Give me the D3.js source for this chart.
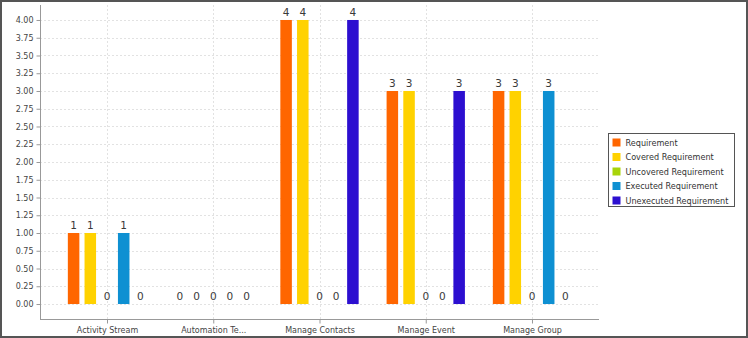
<!DOCTYPE html>
<html><head><meta charset="utf-8">
<script src="https://cdn.jsdelivr.net/npm/d3@7"></script>
<style>html,body{margin:0;padding:0;background:#fff;}svg{display:block;font-family:"DejaVu Sans",sans-serif;}</style>
</head><body>
<svg id="c" width="748" height="338"></svg>
<script>
const categories = ["Activity Stream","Automation Te...","Manage Contacts","Manage Event","Manage Group"];
const seriesNames = ["Requirement","Covered Requirement","Uncovered Requirement","Executed Requirement","Unexecuted Requirement"];
const requirement = [1,0,4,3,3];
const covered = [1,0,4,3,3];
const uncovered = [0,0,0,0,0];
const executed = [1,0,0,0,3];
const unexecuted = [0,0,4,3,0];
const seriesColors = ["#ff6600","#ffd200","#a8d40a","#0e90d2","#2c0fd0"];
const yTicks = [0,0.25,0.5,0.75,1,1.25,1.5,1.75,2,2.25,2.5,2.75,3,3.25,3.5,3.75,4];

const seriesValues = [requirement, covered, uncovered, executed, unexecuted];
const svg = d3.select("#c");

// outer border
svg.append("rect").attr("x",1).attr("y",1).attr("width",746).attr("height",336)
  .attr("fill","#fff").attr("stroke","#555").attr("stroke-width",2);

const L = 40, R = 599, T = 5, B = 319;
const y = d3.scaleLinear().domain([-0.211, 4.211]).range([B, T]);
const x = d3.scalePoint().domain(categories).range([L, R]).padding(0.6306);
const groupW = 83.5;
const xs = d3.scaleBand().domain(seriesNames).range([-groupW/2, groupW/2]).paddingInner(0.31).paddingOuter(0.155);

// grid
const g = svg.append("g");
g.selectAll("line.hg").data(yTicks).join("line").attr("class","hg")
  .attr("x1",L).attr("x2",R).attr("y1",d=>Math.round(y(d))+0.5).attr("y2",d=>Math.round(y(d))+0.5)
  .attr("stroke","#e2e2e2").attr("stroke-dasharray","2,2").attr("stroke-width",1);
g.selectAll("line.vg").data(categories).join("line").attr("class","vg")
  .attr("x1",d=>Math.round(x(d))+0.5).attr("x2",d=>Math.round(x(d))+0.5).attr("y1",T).attr("y2",B)
  .attr("stroke","#e2e2e2").attr("stroke-dasharray","2,2").attr("stroke-width",1);

// bars
const data = [];
categories.forEach((c,i)=>seriesNames.forEach((s,j)=>data.push({c,s,v:seriesValues[j][i],color:seriesColors[j]})));
svg.append("g").selectAll("rect").data(data.filter(d=>d.v>0)).join("rect")
  .attr("x",d=>x(d.c)+xs(d.s)).attr("width",xs.bandwidth())
  .attr("y",d=>y(d.v)).attr("height",d=>y(0)-y(d.v))
  .attr("fill",d=>d.color);

// value labels
svg.append("g").selectAll("text").data(data).join("text")
  .attr("x",d=>x(d.c)+xs(d.s)+xs.bandwidth()/2).attr("y",d=>y(d.v)-4)
  .attr("text-anchor","middle").attr("font-size",10.5).attr("fill","#3a3a3a")
  .text(d=>d.v);

// axes
const yAxis = d3.axisLeft(y).tickValues(yTicks).tickFormat(d3.format(".2f")).tickSize(4).tickPadding(3);
const ya = svg.append("g").attr("transform",`translate(${L+0.5},0)`).call(yAxis);
ya.select(".domain").attr("d",`M0,${T}V${B}`).attr("stroke","#999");
ya.selectAll(".tick line").attr("stroke","#999");
ya.selectAll(".tick text").attr("font-size",8).attr("fill","#444").attr("font-family","DejaVu Sans");

const xAxis = d3.axisBottom(x).tickSize(4).tickPadding(4);
const xa = svg.append("g").attr("transform",`translate(0,${B+0.5})`).call(xAxis);
xa.select(".domain").attr("d",`M${L},0H${R}`).attr("stroke","#999");
xa.selectAll(".tick line").attr("stroke","#999");
xa.selectAll(".tick text").attr("font-size",8).attr("fill","#444").attr("font-family","DejaVu Sans");

// legend
const lg = svg.append("g");
lg.append("rect").attr("x",608.5).attr("y",133.5).attr("width",126).attr("height",73)
  .attr("fill","#fff").attr("stroke","#555").attr("stroke-width",1);
const ly = d3.scalePoint().domain(seriesNames).range([142.5,200.5]);
lg.selectAll("rect.sw").data(seriesNames).join("rect").attr("class","sw")
  .attr("x",612.5).attr("y",d=>ly(d)-4).attr("width",8).attr("height",8)
  .attr("fill",(d,i)=>seriesColors[i]);
lg.selectAll("text").data(seriesNames).join("text")
  .attr("x",625.5).attr("y",d=>ly(d)+3).attr("font-size",8.1).attr("fill","#333").text(d=>d);
</script>
</body></html>
